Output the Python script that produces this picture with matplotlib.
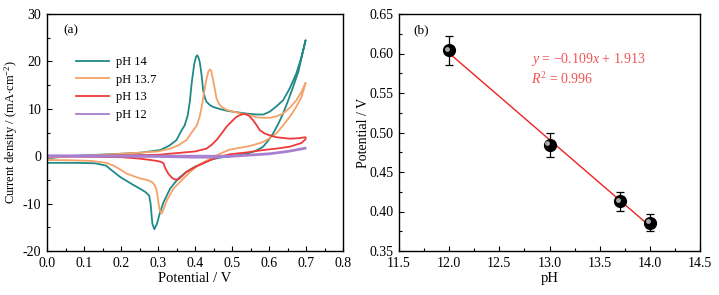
import numpy as np
import matplotlib
matplotlib.use('Agg')
import matplotlib.pyplot as plt
import matplotlib.transforms as mtransforms
from matplotlib.ticker import MultipleLocator, FormatStrFormatter

plt.rcParams['font.family'] = ['Liberation Serif', 'DejaVu Serif']
plt.rcParams['mathtext.fontset'] = 'custom'
plt.rcParams['mathtext.rm'] = 'Liberation Serif'
plt.rcParams['mathtext.it'] = 'Liberation Serif:italic'
plt.rcParams['axes.unicode_minus'] = False

# CV curves (potential / V, current density / mA cm-2)
ph14_x = [0.0, 0.05, 0.15, 0.25, 0.306, 0.33, 0.350, 0.364, 0.372, 0.380, 0.386, 0.391, 0.398, 0.403, 0.406,
          0.409, 0.413, 0.418, 0.422, 0.427, 0.431, 0.440, 0.449, 0.465, 0.485, 0.51, 0.539, 0.566, 0.585,
          0.602, 0.620, 0.638, 0.656, 0.674, 0.688, 0.699,
          0.690, 0.680, 0.665, 0.652, 0.638, 0.625, 0.611, 0.598, 0.584, 0.566, 0.548, 0.525, 0.50, 0.467,
          0.440, 0.422, 0.400, 0.377, 0.355, 0.333, 0.315, 0.305, 0.297, 0.290, 0.285, 0.283, 0.280, 0.276,
          0.265, 0.250, 0.234, 0.215, 0.198, 0.185, 0.172, 0.160, 0.130, 0.080, 0.0]
ph14_y = [-0.5, 0.0, 0.35, 0.7, 1.3, 2.2, 3.4, 5.5, 6.5, 8.5, 11.5, 15.4, 19.5, 21.0, 21.3,
          20.9, 19.8, 17.0, 13.9, 12.3, 11.5, 10.8, 10.4, 10.0, 9.6, 9.3, 9.0, 8.8, 8.8,
          9.4, 10.5, 11.8, 14.3, 17.5, 21.0, 24.5,
          21.5, 18.0, 14.6, 11.8, 9.0, 6.8, 4.8, 3.3, 2.0, 1.2, 0.7, 0.3, 0.0, -0.3,
          -0.8, -1.5, -2.2, -3.3, -4.7, -6.8, -9.7, -12.0, -14.3, -15.4, -14.3, -12.8, -10.0, -8.3,
          -7.5, -6.8, -6.1, -5.2, -4.4, -3.6, -2.8, -2.0, -1.5, -1.4, -1.4]

ph137_x = [0.0, 0.1, 0.2, 0.3, 0.333, 0.355, 0.377, 0.391, 0.405, 0.413, 0.418, 0.423, 0.427, 0.432, 0.436,
           0.440, 0.444, 0.449, 0.454, 0.458, 0.465, 0.472, 0.485, 0.503, 0.525, 0.548, 0.566, 0.585, 0.602,
           0.620, 0.638, 0.656, 0.674, 0.688, 0.699,
           0.688, 0.672, 0.656, 0.638, 0.620, 0.602, 0.584, 0.560, 0.539, 0.515, 0.494, 0.467, 0.440, 0.410,
           0.387, 0.364, 0.342, 0.324, 0.315, 0.310, 0.305, 0.301, 0.298, 0.295, 0.290, 0.283, 0.270, 0.252,
           0.234, 0.216, 0.198, 0.180, 0.160, 0.120, 0.060, 0.0]
ph137_y = [-0.3, 0.1, 0.5, 1.0, 1.6, 2.3, 3.4, 5.0, 6.5, 8.5, 10.4, 12.6, 14.6, 16.6, 17.8,
           18.3, 18.0, 16.0, 14.0, 12.2, 11.0, 10.4, 9.8, 9.4, 9.0, 8.7, 8.2, 8.1, 8.1,
           8.4, 9.0, 10.2, 11.8, 13.6, 15.5,
           12.5, 10.2, 8.3, 6.5, 4.8, 3.8, 3.0, 2.4, 2.0, 1.7, 1.4, 0.5, -0.6, -1.8,
           -3.3, -5.1, -6.8, -9.3, -11.2, -12.1, -11.5, -9.7, -8.0, -6.8, -6.0, -5.4, -5.0, -4.7,
           -4.2, -3.7, -2.8, -2.0, -1.4, -1.0, -0.85, -0.8]

ph13_x = [0.0, 0.15, 0.30, 0.40, 0.431, 0.445, 0.458, 0.472, 0.485, 0.500, 0.512, 0.525, 0.535,
          0.545, 0.557, 0.566, 0.575, 0.588, 0.602, 0.620, 0.656, 0.680, 0.699,
          0.699, 0.688, 0.656, 0.620, 0.584, 0.540, 0.494, 0.467, 0.445, 0.422, 0.400, 0.377,
          0.365, 0.355, 0.345, 0.337, 0.328, 0.320, 0.315, 0.308, 0.297, 0.28, 0.25, 0.20, 0.10, 0.0]
ph13_y = [0.0, 0.1, 0.3, 1.0, 1.6, 2.4, 3.4, 4.8, 6.2, 7.4, 8.3, 8.8, 8.9,
          8.6, 7.6, 6.6, 5.5, 4.8, 4.4, 4.0, 3.7, 3.8, 4.0,
          3.6, 2.8, 2.0, 1.6, 1.3, 0.8, 0.4, -0.1, -0.7, -1.5, -2.3, -3.3,
          -4.2, -4.9, -4.9, -4.5, -3.7, -2.6, -1.5, -1.2, -1.0, -0.8, -0.5, -0.2, -0.1, 0.0]

ph12_x = [0.0, 0.2, 0.4, 0.5, 0.6, 0.65, 0.699, 0.699, 0.65, 0.6, 0.5, 0.45, 0.4, 0.3, 0.15, 0.0]
ph12_y = [0.2, 0.15, 0.1, 0.1, 0.6, 1.1, 1.8, 1.6, 0.9, 0.4, -0.1, -0.3, -0.3, -0.15, -0.1, -0.1]

cv_labels = ['pH 14', 'pH 13.7', 'pH 13', 'pH 12']
cv_colors = ['#1f8a87', '#f4a267', '#ee3a3a', '#a77fd0']

# peak potential vs pH
ph = np.array([12.0, 13.0, 13.7, 14.0])
peak_pot = np.array([0.604, 0.484, 0.413, 0.386])
peak_err = np.array([0.018, 0.015, 0.012, 0.011])

fig = plt.figure(figsize=(7.19, 2.95), dpi=100)
ax1 = fig.add_axes([47 / 719, 44 / 295, 296 / 719, 237 / 295])
ax2 = fig.add_axes([399 / 719, 44 / 295, 301 / 719, 237 / 295])

cv_x = [ph14_x, ph137_x, ph13_x, ph12_x]
cv_y = [ph14_y, ph137_y, ph13_y, ph12_y]
for xs, ys, lab, c in zip(cv_x, cv_y, cv_labels, cv_colors):
    ax1.plot(xs, ys, color=c, lw=1.3, label=lab, solid_joinstyle='round')

ax1.set_xlim(0, 0.8)
ax1.set_ylim(-20, 30)
ax1.xaxis.set_major_locator(MultipleLocator(0.1))
ax1.xaxis.set_minor_locator(MultipleLocator(0.05))
ax1.yaxis.set_major_locator(MultipleLocator(10))
ax1.yaxis.set_minor_locator(MultipleLocator(5))
ax1.xaxis.set_major_formatter(FormatStrFormatter('%.1f'))
ax1.set_xlabel('Potential / V', fontsize=10.5, labelpad=2)
ax1.set_ylabel(r'Current density / (mA$\cdot$cm$^{-2}$)', fontsize=9)
ax1.yaxis.set_label_coords(-0.09, 0.5)
ax1.text(0.054, 0.93, '(a)', transform=ax1.transAxes, fontsize=9.5, va='center')
ax1.legend(loc='upper left', bbox_to_anchor=(0.06, 0.87), frameon=False, fontsize=9,
           handlelength=2.6, handletextpad=0.6, labelspacing=0.45)

# fitted line
slope, intercept = np.polyfit(ph, peak_pot, 1)
fit_x = np.array([ph.min(), ph.max()])
ax2.plot(fit_x, slope * fit_x + intercept, color='#ee2222', lw=1.0, zorder=2)
ax2.errorbar(ph, peak_pot, yerr=peak_err, fmt='none', ecolor='black', elinewidth=0.9,
             capsize=3, capthick=0.9, zorder=3)
ax2.plot(ph, peak_pot, 'o', color='black', ms=8.5, zorder=4)
shift = mtransforms.ScaledTranslation(-1.5 / 72, 1.2 / 72, fig.dpi_scale_trans)
ax2.plot(ph, peak_pot, 'o', color='#a8a8a8', ms=3.5, mew=0, zorder=5,
         transform=ax2.transData + shift)

ax2.set_xlim(11.5, 14.5)
ax2.set_ylim(0.35, 0.65)
ax2.xaxis.set_major_locator(MultipleLocator(0.5))
ax2.xaxis.set_minor_locator(MultipleLocator(0.25))
ax2.yaxis.set_major_locator(MultipleLocator(0.05))
ax2.yaxis.set_minor_locator(MultipleLocator(0.025))
ax2.yaxis.set_major_formatter(FormatStrFormatter('%.2f'))
ax2.xaxis.set_major_formatter(FormatStrFormatter('%.1f'))
ax2.set_xlabel('pH', fontsize=10.5, labelpad=2)
ax2.set_ylabel('Potential / V', fontsize=10)
ax2.yaxis.set_label_coords(-0.095, 0.5)
ax2.text(0.047, 0.93, '(b)', transform=ax2.transAxes, fontsize=9.5, va='center')
ax2.text(12.82, 0.592, r'$\mathit{y}$ = $-$0.109$\mathit{x}$ + 1.913', color='#f05454',
         fontsize=10, va='center')
ax2.text(12.82, 0.568, r'$\mathit{R}^2$ = 0.996', color='#f05454', fontsize=10, va='center')

for ax in (ax1, ax2):
    ax.tick_params(which='both', direction='in', top=False, right=False, labelsize=10, pad=4)
    ax.tick_params(which='major', length=3.5, width=0.8)
    ax.tick_params(which='minor', length=2, width=0.8)
    for sp in ax.spines.values():
        sp.set_linewidth(1.0)

fig.savefig('out.png', dpi=100)
